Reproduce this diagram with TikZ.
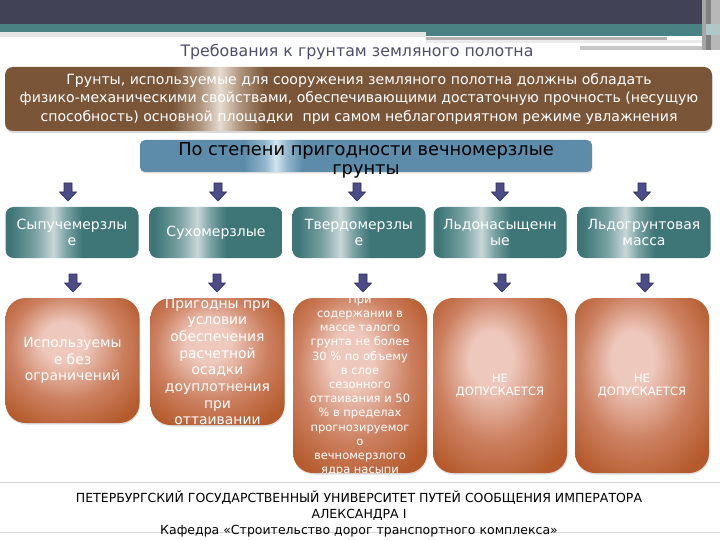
\documentclass[tikz,border=0pt]{standalone}
\usepackage{fontspec}
\setmainfont{DejaVu Sans}
\usetikzlibrary{shadows,calc}
\definecolor{barDark}{RGB}{65,66,86}
\definecolor{bandTeal}{RGB}{74,130,131}
\definecolor{titleC}{RGB}{78,78,108}
\definecolor{brownD}{RGB}{122,85,56}
\definecolor{brownM}{RGB}{175,148,125}
\definecolor{brownL}{RGB}{230,220,210}
\definecolor{blueD}{RGB}{92,140,170}
\definecolor{blueM}{RGB}{145,182,204}
\definecolor{blueL}{RGB}{210,228,238}
\definecolor{tealD}{RGB}{62,118,120}
\definecolor{tealM}{RGB}{120,160,162}
\definecolor{tealL}{RGB}{200,215,215}
\definecolor{orD}{RGB}{181,90,44}
\definecolor{orM}{RGB}{204,128,96}
\definecolor{orL}{RGB}{238,200,188}
\definecolor{arrF}{RGB}{76,76,136}
\definecolor{arrD}{RGB}{46,46,92}
\definecolor{footLine}{RGB}{215,215,215}
\pgfdeclarehorizontalshading{browngloss}{100bp}{color(0bp)=(brownD); color(36.8bp)=(brownD); color(38.8bp)=(brownM); color(40.2bp)=(brownL); color(41.6bp)=(brownM); color(43.4bp)=(brownD); color(100bp)=(brownD)}
\pgfdeclarehorizontalshading{bluegloss}{100bp}{color(0bp)=(blueD); color(36.5bp)=(blueD); color(38.8bp)=(blueM); color(40bp)=(blueL); color(41.3bp)=(blueM); color(43bp)=(blueD); color(100bp)=(blueD)}
\pgfdeclarehorizontalshading{tealgloss}{100bp}{color(0bp)=(tealD); color(27bp)=(tealD); color(36bp)=(tealM); color(43bp)=(tealL); color(48bp)=(tealM); color(54bp)=(tealD); color(100bp)=(tealD)}
\pgfdeclareradialshading{orgloss}{\pgfpoint{-4bp}{9bp}}{color(0bp)=(orL); color(8bp)=(orL); color(21bp)=(orM); color(33bp)=(orD); color(50bp)=(orD)}
\begin{document}
\begin{tikzpicture}[x=1pt,y=-1pt,
  box/.style={inner sep=0pt, outer sep=0pt},
  brownbox/.style={box, shading=browngloss, rounded corners=8pt, minimum width=707pt, minimum height=64pt,
     drop shadow={opacity=0.3, shadow xshift=0.5pt, shadow yshift=-2pt}},
  bluebox/.style={box, shading=bluegloss, rounded corners=5pt, minimum width=452pt, minimum height=32pt,
     drop shadow={opacity=0.25, shadow xshift=0.5pt, shadow yshift=-1.5pt}},
  tealbox/.style={box, shading=tealgloss, rounded corners=8pt, minimum width=133pt, minimum height=51pt,
     text=white, align=center, font=\fontsize{14}{16.5}\selectfont},
  orbox/.style={box, shading=orgloss, rounded corners=20pt, minimum width=134pt,
     drop shadow={opacity=0.25, shadow xshift=0.5pt, shadow yshift=-1.5pt}},
  ortext/.style={inner sep=0pt, align=center, text=white, font=\fontsize{13.9}{16.7}\selectfont},
  downarr/.pic={\filldraw[fill=arrF, draw=arrD, line width=0.6pt, line join=miter]
     (-4,0) -- (4,0) -- (4,9) -- (8.5,9) -- (0,18) -- (-8.5,9) -- (-4,9) -- cycle;}
]
\useasboundingbox (0,0) rectangle (720,540);
\fill[white] (0,0) rectangle (720,540);
% header decoration
\fill[barDark] (0,0) rectangle (702,24);
\fill[bandTeal] (0,24) rectangle (702,32);
\fill[bandTeal] (426,32) rectangle (702,36);
\fill[black!10] (0,32) rectangle (426,37);
\fill[black!30] (426,37) rectangle (667,40);
\fill[black!8] (426,40) rectangle (702,43);
\fill[black!22] (580,46) rectangle (705,50);
\fill[black!35] (702,0) rectangle (706,50);
\fill[black!50] (706,0) rectangle (711,50);
\fill[black!28] (711,0) rectangle (720,50);
\fill[bandTeal!45] (706,24) rectangle (720,35);
% title
\node[inner sep=0pt, text=titleC, font=\fontsize{15.8}{18}\selectfont] (title) at (357,52) {Требования к грунтам земляного полотна};
% brown box
\node[brownbox] (req) at (358.5,99) {};
\node[inner sep=0pt, align=center, text=white, font=\fontsize{14.1}{18.5}\selectfont] (reqt) at (359,98.5)
 {Грунты, используемые для сооружения земляного полотна должны обладать\\
  физико-механическими свойствами, обеспечивающими достаточную прочность (несущую\\
  способность) основной площадки\ \ при самом неблагоприятном режиме увлажнения};
% blue box
\node[bluebox] (cls) at (366,156) {};
\node[inner sep=0pt, align=center, text=black, font=\fontsize{17.8}{19.5}\selectfont] (clst) at (366,160.5)
 {По степени пригодности вечномерзлые\\грунты};
% teal boxes
\node[tealbox] (t1) at (72,232.5) {Сыпучемерзлы\\е};
\node[tealbox] (t2) at (216,232.5) {Сухомерзлые};
\node[tealbox] (t3) at (359,232.5) {Твердомерзлы\\е};
\node[tealbox] (t4) at (500,232.5) {Льдонасыщенн\\ые};
\node[tealbox] (t5) at (644,232.5) {Льдогрунтовая\\масса};
% orange boxes
\node[orbox, minimum height=125pt] (o1) at (72.5,360.5) {};
\node[orbox, minimum height=127pt] (o2) at (217.5,361.5) {};
\node[orbox, minimum height=175pt] (o3) at (360,385.5) {};
\node[orbox, minimum height=175pt] (o4) at (500,385.5) {};
\node[orbox, minimum height=175pt] (o5) at (642,385.5) {};
\node[ortext] (o1t) at (o1) {Используемы\\е без\\ограничений};
\node[ortext] (o2t) at (o2) {Пригодны при\\условии\\обеспечения\\расчетной\\осадки\\доуплотнения\\при\\оттаивании};
\node[ortext, font=\fontsize{11.5}{14.2}\selectfont] (o3t) at (o3)
 {При\\содержании в\\массе талого\\грунта не более\\30 \% по объему\\в слое\\сезонного\\оттаивания и 50\\\% в пределах\\прогнозируемог\\о\\вечномерзлого\\ядра насыпи};
\node[ortext, font=\fontsize{11.5}{13.5}\selectfont] (o4t) at (o4) {НЕ\\ДОПУСКАЕТСЯ};
\node[ortext, font=\fontsize{11.5}{13.5}\selectfont] (o5t) at (o5) {НЕ\\ДОПУСКАЕТСЯ};
% arrows row 1
\pic at ($(t1.north)+(-4,-24)$) {downarr};
\pic at ($(t2.north)+(2,-24)$) {downarr};
\pic at ($(t3.north)+(-2,-24)$) {downarr};
\pic at ($(t4.north)+(0,-24)$) {downarr};
\pic at ($(t5.north)+(-2,-24)$) {downarr};
% arrows row 2
\pic at ($(o1.north)+(0.5,-24)$) {downarr};
\pic at ($(o2.north)+(-0.5,-24)$) {downarr};
\pic at ($(o3.north)+(3,-24)$) {downarr};
\pic at ($(o4.north)+(2,-24)$) {downarr};
\pic at ($(o5.north)+(3,-24)$) {downarr};
% footer
\draw[footLine, line width=0.8pt] (0,482) -- (720,482);
\draw[footLine, line width=0.8pt] (0,532) -- (720,532);
\node[inner sep=0pt, align=center, font=\fontsize{12.5}{16}\selectfont] (foot) at (359,514)
 {ПЕТЕРБУРГСКИЙ ГОСУДАРСТВЕННЫЙ УНИВЕРСИТЕТ ПУТЕЙ СООБЩЕНИЯ ИМПЕРАТОРА\\
  АЛЕКСАНДРА I\\
  Кафедра «Строительство дорог транспортного комплекса»};
\end{tikzpicture}
\end{document}
